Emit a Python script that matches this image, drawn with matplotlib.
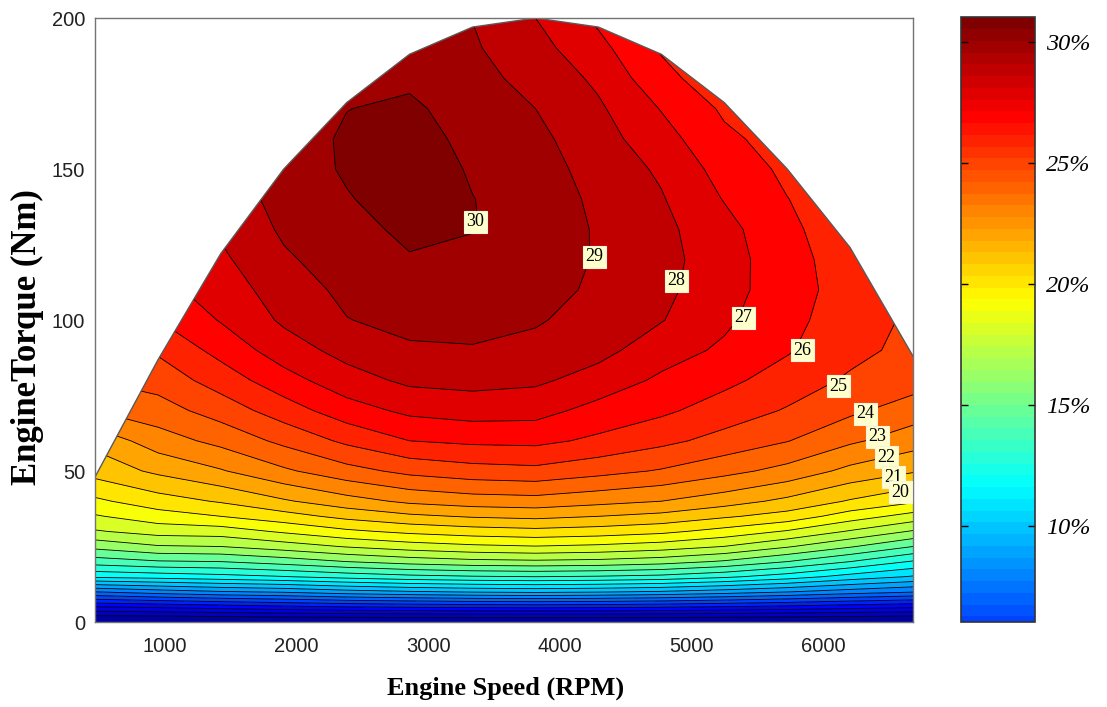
import numpy as np
import matplotlib
matplotlib.use('Agg')
import matplotlib.pyplot as plt
from matplotlib.colors import LinearSegmentedColormap, Normalize
from matplotlib.patches import Polygon
from matplotlib.cm import ScalarMappable

# grid speeds (RPM) and torques (Nm)
speeds = [470, 948, 1425, 1903, 2381, 2858, 3336, 3814, 4292, 4769, 5247, 5725, 6202, 6680]
torques = [0, 2, 5, 10, 15, 20, 25, 30, 35, 40, 50, 60, 70, 80, 90, 100,
           110, 120, 130, 140, 150, 160, 170, 180, 190, 200]

# wide open throttle curve
max_torque = [48, 86.8, 122, 150, 172, 188, 197, 200, 197, 188, 172, 150, 124, 88]

# efficiency (%) at each torque row / speed column
efficiency = [
    [0.0, 0.0, 0.0, 0.0, 0.0, 0.0, 0.0, 0.0, 0.0, 0.0, 0.0, 0.0, 0.0, 0.0],
    [0.93, 1.0, 1.1, 1.2, 1.28, 1.34, 1.38, 1.4, 1.38, 1.34, 1.27, 1.18, 1.09, 1.01],
    [2.96, 3.17, 3.45, 3.74, 3.99, 4.12, 4.24, 4.3, 4.24, 4.12, 3.92, 3.7, 3.42, 3.19],
    [7.0, 7.5, 7.9, 8.13, 8.58, 8.88, 9.09, 9.2, 9.09, 8.88, 8.5, 8.04, 7.51, 7.07],
    [11.2, 11.4, 11.65, 11.95, 12.36, 12.7, 12.9, 13.0, 12.9, 12.7, 12.2, 11.5, 10.6, 9.9],
    [13.5, 13.9, 14.0, 14.45, 15.0, 15.42, 15.7, 15.8, 15.7, 15.42, 14.87, 14.0, 13.0, 11.9],
    [15.3, 15.9, 16.0, 16.5, 17.07, 17.5, 17.79, 17.95, 17.79, 17.5, 16.98, 16.1, 15.1, 14.0],
    [16.9, 17.4, 17.5, 18.15, 18.8, 19.24, 19.53, 19.69, 19.53, 19.24, 18.64, 17.9, 16.9, 15.9],
    [17.9, 18.55, 19.0, 19.6, 20.29, 20.8, 21.1, 21.25, 21.0, 20.71, 20.14, 19.6, 18.5, 17.6],
    [18.8, 19.55, 20.1, 20.87, 21.6, 22.2, 22.5, 22.6, 22.3, 22.0, 21.44, 20.75, 19.9, 19.17],
    [20.4, 21.2, 21.91, 22.83, 23.64, 24.27, 24.6, 24.73, 24.33, 23.91, 23.31, 22.67, 21.72, 21.1],
    [21.3, 22.53, 23.29, 24.25, 25.21, 26.0, 26.2, 26.25, 25.8, 25.26, 24.65, 24.04, 23.17, 22.46],
    [23.0, 23.57, 24.44, 25.5, 26.56, 27.22, 27.44, 27.36, 26.65, 26.19, 25.54, 24.91, 24.2, 23.5],
    [24.0, 24.4, 25.45, 26.6, 27.59, 28.2, 28.31, 28.17, 27.6, 26.81, 26.24, 25.55, 24.85, 24.45],
    [24.8, 25.15, 26.33, 27.52, 28.34, 28.87, 28.94, 28.72, 28.3, 27.47, 26.82, 26.1, 25.3, 24.7],
    [25.5, 26.0, 27.07, 28.16, 28.97, 29.27, 29.25, 29.1, 28.6, 28.05, 27.2, 26.25, 25.55, 24.8],
    [26.0, 26.7, 27.44, 28.51, 29.22, 29.6, 29.53, 29.38, 28.82, 28.22, 27.45, 26.35, 25.65, 24.85],
    [26.4, 27.3, 27.81, 28.86, 29.46, 29.93, 29.8, 29.6, 28.9, 28.3, 27.5, 26.3, 25.6, 24.85],
    [26.7, 27.7, 28.15, 29.15, 29.69, 30.2, 30.03, 29.7, 28.88, 28.25, 27.35, 26.18, 25.5, 24.85],
    [26.9, 28.0, 28.4, 29.35, 29.93, 30.45, 30.02, 29.6, 28.78, 28.08, 26.95, 26.02, 25.4, 24.8],
    [27.0, 28.2, 28.6, 29.45, 30.12, 30.55, 29.9, 29.45, 28.6, 27.85, 26.6, 25.8, 25.3, 24.75],
    [27.0, 28.3, 28.7, 29.45, 30.15, 30.45, 29.7, 29.25, 28.4, 27.4, 26.2, 25.6, 25.2, 24.7],
    [27.0, 28.3, 28.8, 29.4, 29.98, 30.2, 29.5, 29.0, 28.15, 26.95, 25.85, 25.3, 25.1, 24.6],
    [27.0, 28.3, 28.8, 29.3, 29.75, 29.8, 29.3, 28.7, 27.8, 26.3, 25.4, 25.0, 25.0, 24.5],
    [27.0, 28.2, 28.7, 29.2, 29.5, 29.4, 29.12, 28.35, 27.3, 25.9, 25.0, 24.8, 24.9, 24.4],
    [27.0, 28.1, 28.6, 29.0, 29.2, 29.0, 28.98, 28.0, 26.8, 25.4, 24.6, 24.5, 24.8, 24.3],
]

# contour labels (level, speed, torque)
label_levels = [30, 29, 28, 27, 26, 25, 24, 23, 22, 21, 20]
label_speeds = [3358, 4261, 4884, 5392, 5840, 6114, 6319, 6410, 6478, 6531, 6584]
label_torques = [132.5, 120.9, 113, 100.7, 90, 78, 68.9, 61.3, 54.6, 48, 43]

cbar_ticks = [10, 15, 20, 25, 30]

# matlab style jet, 64 steps
jet = LinearSegmentedColormap.from_list(
    'mjet', [(0, (0, 0, 0.5)), (1 / 8, (0, 0, 1)), (3 / 8, (0, 1, 1)),
             (5 / 8, (1, 1, 0)), (7 / 8, (1, 0, 0)), (1, (0.5, 0, 0))], N=64)

serif = 'Liberation Serif'
sans = 'Liberation Sans'

fig = plt.figure(figsize=(11.07, 7.07), dpi=100)
ax = fig.add_axes([0.0858, 0.1202, 0.739, 0.8543])
cax = fig.add_axes([0.868, 0.1207, 0.0668, 0.8557])

X, Y = np.meshgrid(speeds, torques)
Z = np.array(efficiency)
levels = np.arange(0, 32)

# bands coloured by their upper level, like matlab
cf = ax.contourf(X, Y, Z, levels=levels, cmap=jet, norm=Normalize(-0.5, 30.5))
cl = ax.contour(X, Y, Z, levels=levels[1:31], colors='k', linewidths=0.6)

clip = Polygon(np.column_stack([[speeds[0]] + speeds + [speeds[-1]],
                                [0] + max_torque + [0]]),
               closed=True, transform=ax.transData, fc='none', ec='none')
cf.set_clip_path(clip)
cl.set_clip_path(clip)
ax.plot(speeds, max_torque, color='0.35', lw=1.0)

for lev, s, t in zip(label_levels, label_speeds, label_torques):
    ax.text(s, t, str(lev), ha='center', va='center', fontsize=13, family=serif,
            bbox=dict(boxstyle='square,pad=0.14', fc='#ffffcc', ec='#f4f4e0', lw=0.8))

ax.set_xlim(speeds[0], speeds[-1])
ax.set_ylim(0, 200)
ax.set_xticks([1000, 2000, 3000, 4000, 5000, 6000])
ax.set_yticks([0, 50, 100, 150, 200])
ax.tick_params(length=0, labelsize=14.5, colors='#222222')
ax.tick_params(axis='x', pad=11)
ax.tick_params(axis='y', pad=7)
for lab in ax.get_xticklabels() + ax.get_yticklabels():
    lab.set_family(sans)
for sp in ax.spines.values():
    sp.set_color('0.45')
    sp.set_linewidth(1.0)

fig.text(506 / 1107, 1 - 688 / 707, 'Engine Speed (RPM)', ha='center', va='center',
         fontsize=19, fontweight='bold', family=serif)
fig.text(27 / 1107, 1 - 337 / 707, 'EngineTorque (Nm)', ha='center', va='center',
         rotation=90, fontsize=25, fontweight='bold', family=serif)

sm = ScalarMappable(norm=Normalize(0, 31), cmap=jet)
cb = fig.colorbar(sm, cax=cax, boundaries=np.linspace(6.07, 31.03, 400))
cb.set_ticks(cbar_ticks)
cb.set_ticklabels(['%d%%' % v for v in cbar_ticks])
cax.tick_params(direction='in', left=True, right=True, length=5, width=1,
                labelsize=17.5, pad=8)
for lab in cax.get_yticklabels():
    lab.set_family(serif)
    lab.set_style('italic')
cb.outline.set_edgecolor('0.2')
cb.outline.set_linewidth(1.2)

fig.savefig('out.png', dpi=100)
